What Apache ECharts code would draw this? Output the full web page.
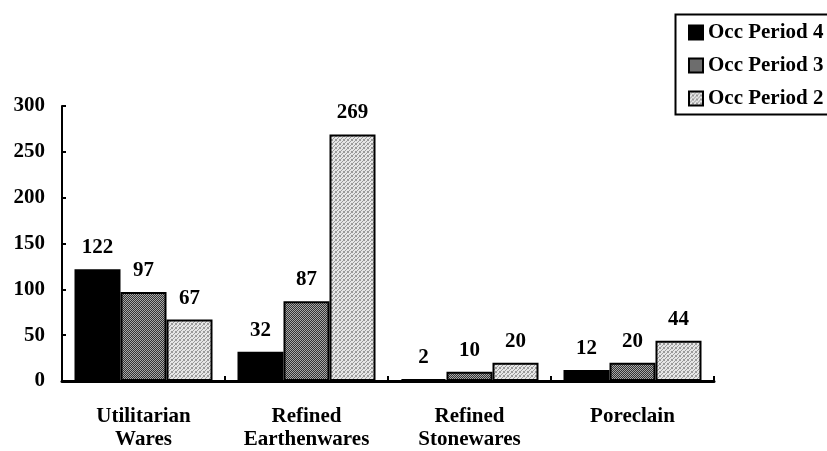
<!DOCTYPE html>
<html><head><meta charset="utf-8">
<script src="https://cdn.jsdelivr.net/npm/echarts@6/dist/echarts.min.js"></script>
<style>html,body{margin:0;padding:0;background:#fff}#c{width:827px;height:451px}</style>
</head><body><div id="c"></div>
<script>
const categories = ['Utilitarian\nWares', 'Refined\nEarthenwares', 'Refined\nStonewares', 'Poreclain'];
const seriesNames = ['Occ Period 4', 'Occ Period 3', 'Occ Period 2'];
const period4 = [122, 32, 2, 12];
const period3 = [97, 87, 10, 20];
const period2 = [67, 269, 20, 44];
const yTicks = [0, 50, 100, 150, 200, 250, 300];

function makePattern(bg, dot, step) {
  const c = document.createElement('canvas');
  c.width = 4; c.height = 4;
  const g = c.getContext('2d');
  g.fillStyle = bg; g.fillRect(0, 0, 4, 4);
  g.fillStyle = dot;
  for (let y = 0; y < 4; y++) for (let x = 0; x < 4; x++) {
    if ((x + y) % step === 0) g.fillRect(x, y, 1, 1);
  }
  return c;
}
const darkPat = { image: makePattern('#333333', '#a8a8a8', 2), repeat: 'repeat' };
const lightPat = { image: makePattern('#e6e6e6', '#9a9a9a', 3), repeat: 'repeat' };

const FONT = '"Liberation Serif", "Times New Roman", serif';
const fills = ['#000000', darkPat, lightPat];
const dataSets = [period4, period3, period2];

const chart = echarts.init(document.getElementById('c'), null, { renderer: 'canvas' });
chart.setOption({
  animation: false,
  backgroundColor: '#fff',
  grid: { left: 62, right: 113, top: 106, bottom: 68 },
  legend: {
    orient: 'vertical', left: 683, top: 17,
    icon: 'rect',
    itemWidth: 14, itemHeight: 14, itemGap: 12,
    textStyle: { fontFamily: FONT, fontWeight: 'bold', fontSize: 21, color: '#000' },
    data: seriesNames
  },
  graphic: [{
    type: 'rect', left: 673, top: 12, shape: { width: 180, height: 100 },
    style: { fill: 'none', stroke: '#000', lineWidth: 2 }, z: 10
  }],
  xAxis: {
    type: 'category', data: categories,
    axisLine: { lineStyle: { color: '#000', width: 3 } },
    axisTick: { show: true, inside: true, length: 5, lineStyle: { color: '#000', width: 2 } },
    axisLabel: { interval: 0, fontFamily: FONT, fontWeight: 'bold', fontSize: 21, color: '#000', margin: 24, lineHeight: 23 }
  },
  yAxis: {
    type: 'value', min: 0, max: 300, interval: 50,
    splitLine: { show: false },
    axisLine: { show: true, lineStyle: { color: '#000', width: 2 } },
    axisTick: { show: true, inside: true, length: 4, lineStyle: { color: '#000', width: 2 } },
    axisLabel: { fontFamily: FONT, fontWeight: 'bold', fontSize: 21, color: '#000', margin: 17,
      formatter: v => yTicks.includes(v) ? String(v) : '' }
  },
  series: seriesNames.map((name, i) => ({
    name, type: 'bar', data: dataSets[i], barWidth: 46, barGap: '0%',
    itemStyle: { color: fills[i], borderColor: '#000', borderWidth: 2 },
    label: { show: true, position: 'top', distance: 11, fontFamily: FONT, fontWeight: 'bold', fontSize: 21, color: '#000' }
  }))
});
</script></body></html>
